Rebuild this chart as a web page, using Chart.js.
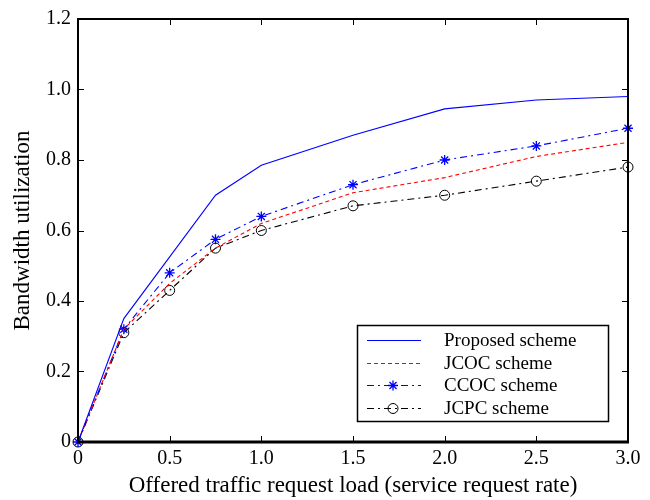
<!DOCTYPE html>
<html>
<head>
<meta charset="utf-8">
<script src="https://cdn.jsdelivr.net/npm/chart.js@4.4.1/dist/chart.umd.min.js"></script>
<style>
html,body{margin:0;padding:0;background:#fff;}
#wrap{width:650px;height:500px;position:relative;}
</style>
</head>
<body>
<div id="wrap"><canvas id="c" width="650" height="500"></canvas></div>
<script>
const loads = [0, 0.25, 0.5, 0.75, 1.0, 1.5, 2.0, 2.5, 3.0];
const proposed = [0, 0.35, 0.525, 0.70, 0.785, 0.87, 0.945, 0.97, 0.98];
const jcoc = [0, 0.32, 0.45, 0.55, 0.62, 0.707, 0.75, 0.81, 0.85];
const ccoc = [0, 0.32, 0.48, 0.575, 0.64, 0.73, 0.80, 0.84, 0.89];
const jcpc = [0, 0.31, 0.43, 0.55, 0.60, 0.67, 0.70, 0.74, 0.78];
const seriesNames = ['Proposed scheme', 'JCOC scheme', 'CCOC scheme', 'JCPC scheme'];
const xTicks = [0, 0.5, 1.0, 1.5, 2.0, 2.5, 3.0];
const yTicks = [0, 0.2, 0.4, 0.6, 0.8, 1.0, 1.2];
const xTitle = 'Offered traffic request load (service request rate)';
const yTitle = 'Bandwidth utilization';

const FONT = "'Liberation Serif', 'Times New Roman', serif";
const pts = arr => loads.map((x, i) => ({x: x, y: arr[i]}));
const fmt = v => (v === 0 ? '0' : Number(v).toFixed(1));

const datasets = [
  {label: seriesNames[0], data: pts(proposed), borderColor: '#0000ff', borderWidth: 1.1, borderDash: [], pointRadius: 0, pointStyle: false},
  {label: seriesNames[1], data: pts(jcoc), borderColor: '#ff0000', borderWidth: 1.1, borderDash: [4, 3], pointRadius: 0, pointStyle: false},
  {label: seriesNames[2], data: pts(ccoc), borderColor: '#0000ff', borderWidth: 1.1, borderDash: [7, 4, 2, 4], pointRadius: 5, pointStyle: 'star', pointBorderColor: '#0000ff', pointBorderWidth: 1.3, pointBackgroundColor: '#0000ff'},
  {label: seriesNames[3], data: pts(jcpc), borderColor: '#000000', borderWidth: 1.1, borderDash: [7, 4, 2, 4], pointRadius: 5, pointStyle: 'circle', pointBorderColor: '#000000', pointBorderWidth: 1, pointBackgroundColor: 'rgba(255,255,255,0)'}
];
datasets.forEach(d => { d.fill = false; d.tension = 0; d.clip = false; d.backgroundColor = d.borderColor; });

const frame = {
  id: 'frame',
  afterDraw(chart) {
    const ctx = chart.ctx;
    const {left, right, top, bottom} = chart.chartArea;
    const xs = chart.scales.x, ys = chart.scales.y;
    ctx.save();
    ctx.strokeStyle = '#000';
    ctx.lineWidth = 1;
    ctx.setLineDash([]);
    ctx.beginPath();
    xTicks.forEach(v => {
      const p = Math.round(xs.getPixelForValue(v)) + 0.5;
      ctx.moveTo(p, bottom); ctx.lineTo(p, bottom - 6);
      ctx.moveTo(p, top); ctx.lineTo(p, top + 6);
    });
    yTicks.forEach(v => {
      const p = Math.round(ys.getPixelForValue(v)) + 0.5;
      ctx.moveTo(left, p); ctx.lineTo(left + 6, p);
      ctx.moveTo(right, p); ctx.lineTo(right - 6, p);
    });
    ctx.stroke();
    ctx.lineWidth = 2;
    ctx.strokeRect(left, top, right - left, bottom - top);
    ctx.lineWidth = 3;
    ctx.beginPath(); ctx.moveTo(left - 1, bottom); ctx.lineTo(right + 1, bottom); ctx.stroke();

    // legend
    const bw = 251, bh = 96;
    const bx = Math.round(right - 20 - bw), by = Math.round(bottom - 21 - bh);
    ctx.fillStyle = '#fff';
    ctx.fillRect(bx, by, bw, bh);
    ctx.lineWidth = 1.5;
    ctx.strokeStyle = '#000';
    ctx.strokeRect(bx + 0.5, by + 0.5, bw, bh);
    ctx.font = '19px ' + FONT;
    ctx.textBaseline = 'middle';
    ctx.textAlign = 'left';
    chart.data.datasets.forEach((d, i) => {
      const yy = Math.round(by + 15 + i * 22.5) + 0.5;
      ctx.save();
      ctx.strokeStyle = d.borderColor;
      ctx.lineWidth = 1.2;
      ctx.setLineDash(d.borderDash.length ? d.borderDash : []);
      ctx.beginPath(); ctx.moveTo(bx + 10, yy); ctx.lineTo(bx + 64, yy); ctx.stroke();
      ctx.restore();
      if (d.pointStyle) {
        ctx.save();
        ctx.setLineDash([]);
        ctx.strokeStyle = d.pointBorderColor; ctx.fillStyle = d.pointBackgroundColor; ctx.lineWidth = d.pointBorderWidth;
        Chart.helpers.drawPoint(ctx, {pointStyle: d.pointStyle, radius: 5, borderWidth: d.pointBorderWidth, rotation: 0}, bx + 36, yy);
        ctx.restore();
      }
      ctx.fillStyle = '#000';
      ctx.fillText(d.label, bx + 87, yy + 1);
    });
    ctx.restore();
  }
};

new Chart(document.getElementById('c'), {
  type: 'line',
  data: {datasets: datasets},
  options: {
    responsive: false,
    animation: false,
    layout: {padding: {left: 0, right: 22, top: 11, bottom: 0}},
    plugins: {legend: {display: false}, tooltip: {enabled: false}},
    scales: {
      x: {
        type: 'linear', min: 0, max: 3,
        afterFit(s) { s.height = 58; },
        afterBuildTicks(s) { s.ticks = xTicks.map(v => ({value: v})); },
        grid: {display: false, drawTicks: false},
        border: {display: false},
        ticks: {color: '#000', padding: 5, font: {family: FONT, size: 20}, callback: fmt, maxRotation: 0},
        title: {display: true, text: xTitle, color: '#000', font: {family: FONT, size: 23}, padding: {top: 0, bottom: 0}}
      },
      y: {
        type: 'linear', min: 0, max: 1.2,
        afterFit(s) { s.width = 78; },
        afterBuildTicks(s) { s.ticks = yTicks.map(v => ({value: v})); },
        grid: {display: false, drawTicks: false},
        border: {display: false},
        ticks: {color: '#000', padding: 7, font: {family: FONT, size: 20}, callback: fmt},
        title: {display: true, text: yTitle, color: '#000', font: {family: FONT, size: 23}, padding: {top: 9, bottom: 0}}
      }
    }
  },
  plugins: [frame]
});
</script>
</body>
</html>
